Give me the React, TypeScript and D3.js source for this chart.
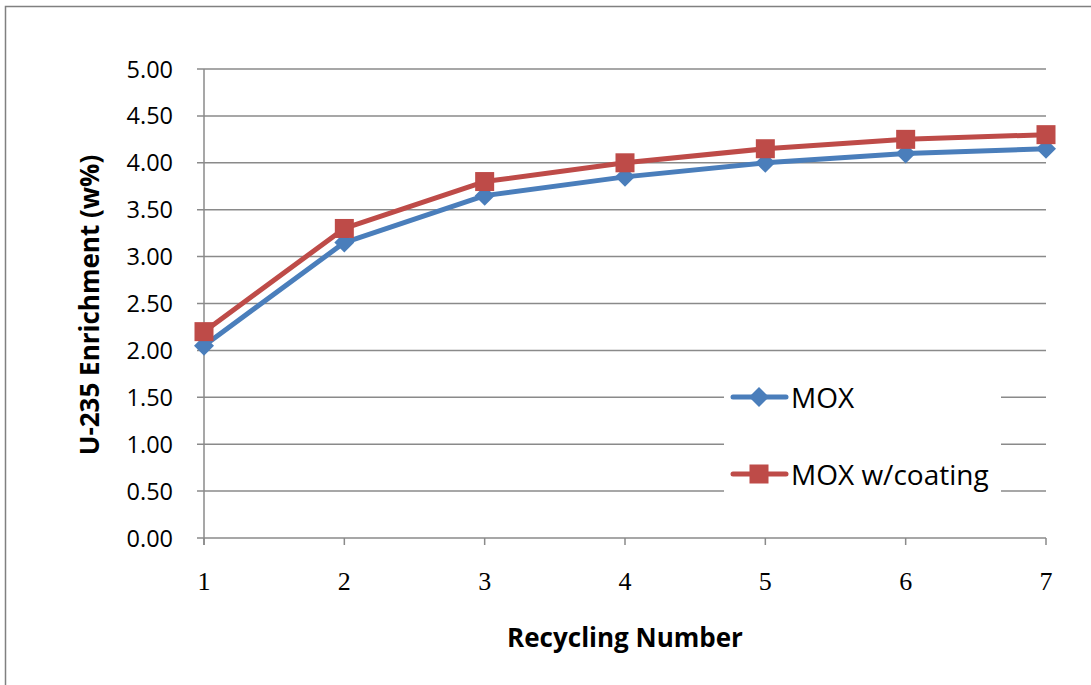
import React from "react";
import * as d3 from "d3";

const recycling = [1, 2, 3, 4, 5, 6, 7];
const moxValues = [2.05, 3.15, 3.65, 3.85, 4.0, 4.1, 4.15];
const coatingValues = [2.2, 3.3, 3.8, 4.0, 4.15, 4.25, 4.3];
const yTicks = [0, 0.5, 1, 1.5, 2, 2.5, 3, 3.5, 4, 4.5, 5];
const seriesNames = ["MOX", "MOX w/coating"];
const xTitle = "Recycling Number";
const yTitle = "U-235 Enrichment (w%)";

const W = 1091;
const H = 685;
const left = 204, right = 1046, top = 69, bottom = 538;
const BLUE = "#4A7EBB";
const RED = "#BE4B48";
const GRID = "#8a8a8a";
const SANS = "'Open Sans', 'Noto Sans', sans-serif";

export default function App() {
  const x = d3.scaleLinear().domain([1, 7]).range([left, right]);
  const y = d3.scaleLinear().domain([0, 5]).range([bottom, top]);
  const line = d3
    .line<number>()
    .x((_, i) => x(recycling[i]))
    .y((d) => y(d));

  const diamond = (cx: number, cy: number, r: number) =>
    `M${cx},${cy - r}L${cx + r},${cy}L${cx},${cy + r}L${cx - r},${cy}Z`;

  const legendX = 724, legendW = 277, legendY = 372, legendH = 138;
  const legendRows = [397, 474];

  return (
    <svg
      width={W}
      height={H}
      style={{ position: "absolute", left: 0, top: 0, background: "#fff" }}
    >
      <rect x={0} y={0} width={W} height={H} fill="#fff" />
      <path d={`M5.5,${H + 5}V6.5H${W + 5}`} fill="none" stroke="#808080" strokeWidth={1.5} />

      {/* gridlines */}
      {yTicks.map((t) => (
        <line key={t} x1={left - 7} x2={right} y1={y(t)} y2={y(t)} stroke={GRID} strokeWidth={1.5} />
      ))}
      {/* y axis */}
      <line x1={left} x2={left} y1={top} y2={bottom + 7} stroke={GRID} strokeWidth={1.5} />
      {recycling.map((r) => (
        <line key={r} x1={x(r)} x2={x(r)} y1={bottom} y2={bottom + 7} stroke={GRID} strokeWidth={1.5} />
      ))}

      {/* y tick labels */}
      {yTicks.map((t) => (
        <text
          key={t}
          x={173}
          y={y(t) + 8.5}
          textAnchor="end"
          fontFamily={SANS}
          fontSize={23.5}
          fill="#000"
        >
          {t.toFixed(2)}
        </text>
      ))}
      {/* x tick labels */}
      {recycling.map((r) => (
        <text
          key={r}
          x={x(r)}
          y={590}
          textAnchor="middle"
          fontFamily="'Liberation Serif', 'DejaVu Serif', serif"
          fontSize={26}
          fill="#000"
        >
          {r}
        </text>
      ))}

      {/* axis titles */}
      <text
        x={625}
        y={647}
        textAnchor="middle"
        fontFamily={SANS}
        fontWeight="bold"
        fontSize={26}
        fill="#000"
      >
        {xTitle}
      </text>
      <text
        transform={`translate(99,305) rotate(-90)`}
        textAnchor="middle"
        fontFamily={SANS}
        fontWeight="bold"
        fontSize={26}
        fill="#000"
      >
        {yTitle}
      </text>

      {/* series */}
      <path d={line(moxValues) || ""} fill="none" stroke={BLUE} strokeWidth={5} strokeLinejoin="round" />
      {moxValues.map((v, i) => (
        <path key={i} d={diamond(x(recycling[i]), y(v), 10)} fill={BLUE} />
      ))}
      <path d={line(coatingValues) || ""} fill="none" stroke={RED} strokeWidth={5} strokeLinejoin="round" />
      {coatingValues.map((v, i) => (
        <rect key={i} x={x(recycling[i]) - 9.5} y={y(v) - 9.5} width={19} height={19} fill={RED} />
      ))}

      {/* legend */}
      <rect x={legendX} y={legendY} width={legendW} height={legendH} fill="#fff" />
      {seriesNames.map((name, i) => {
        const ly = legendRows[i];
        const color = i === 0 ? BLUE : RED;
        return (
          <g key={name}>
            <line x1={733} x2={786} y1={ly} y2={ly} stroke={color} strokeWidth={5} strokeLinecap="round" />
            {i === 0 ? (
              <path d={diamond(759, ly, 10)} fill={color} />
            ) : (
              <rect x={749.5} y={ly - 9.5} width={19} height={19} fill={color} />
            )}
            <text x={791} y={ly + 11} fontFamily={SANS} fontSize={28} fill="#000">
              {name}
            </text>
          </g>
        );
      })}
    </svg>
  );
}
